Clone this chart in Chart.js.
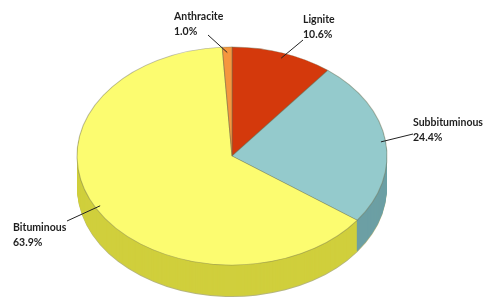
<!DOCTYPE html>
<html>
<head>
<meta charset="utf-8">
<script src="https://cdn.jsdelivr.net/npm/chart.js@4"></script>
<style>
  html, body { margin: 0; padding: 0; background: #fff; overflow: hidden; }
  #wrap { width: 487px; height: 299px; }
</style>
</head>
<body>
<div id="wrap"><canvas id="coal"></canvas></div>
<script>
const labels = ["Lignite", "Subbituminous", "Bituminous", "Anthracite"];
const shares = [10.6, 24.4, 63.9, 1.0];
const topColors = ["#d4390c", "#94cacc", "#fcfc70", "#f5963e"];
const sideColors = ["#a52c08", "#6c9fa4", "#d0cf3c", "#c8772f"];

// where the labels sit (left x, first line y) - layout only
const labelPos = [[303, 20], [413, 123], [13, 228], [174, 17]];
const lineStart = [[303, 40], [413, 134], [67, 221], [208, 35]];

// 3d look: ellipse radii and depth in screen pixels
const rx = 155, ry = 109, depth = 32;

function ellipse(ctx, arc) {
    const R = arc.outerRadius;
    ctx.translate(arc.x, arc.y);
    ctx.scale(rx / R, ry / R);
    ctx.translate(-arc.x, -arc.y);
}

const pie3d = {
    id: 'pie3d',
    beforeDatasetsDraw(chart) {
        const ctx = chart.ctx;
        const arcs = chart.getDatasetMeta(0).data;
        // side walls: stack of shifted wedges
        for (let d = depth; d > 0; d--) {
            for (let i = 0; i < arcs.length; i++) {
                const a = arcs[i];
                ctx.save();
                ctx.translate(0, d);
                ellipse(ctx, a);
                ctx.beginPath();
                ctx.moveTo(a.x, a.y);
                ctx.arc(a.x, a.y, a.outerRadius, a.startAngle, a.endAngle);
                ctx.closePath();
                ctx.fillStyle = (d === depth) ? 'rgba(150,150,70,0.7)' : sideColors[i];
                ctx.fill();
                ctx.restore();
            }
        }
        ctx.save();
        ellipse(ctx, arcs[0]);
    },
    afterDatasetsDraw(chart) {
        const ctx = chart.ctx;
        ctx.restore();
        const arcs = chart.getDatasetMeta(0).data;
        ctx.save();
        ctx.font = 'bold 10.5px Lato, "Open Sans", sans-serif';
        ctx.fillStyle = '#1e1e1e';
        ctx.textBaseline = 'middle';
        ctx.strokeStyle = '#222';
        ctx.lineWidth = 1;
        for (let i = 0; i < arcs.length; i++) {
            const a = arcs[i];
            const mid = (a.startAngle + a.endAngle) / 2;
            const ax = a.x + Math.cos(mid) * rx * 0.97;
            const ay = a.y + Math.sin(mid) * ry * 0.95;
            ctx.beginPath();
            ctx.moveTo(lineStart[i][0], lineStart[i][1]);
            ctx.lineTo(ax, ay);
            ctx.stroke();
            ctx.fillText(labels[i], labelPos[i][0], labelPos[i][1]);
            ctx.fillText(shares[i].toFixed(1) + '%', labelPos[i][0], labelPos[i][1] + 15);
        }
        ctx.restore();
    }
};

new Chart(document.getElementById('coal'), {
    type: 'pie',
    data: {
        labels: labels,
        datasets: [{
            data: shares,
            backgroundColor: topColors,
            borderColor: 'rgba(110,110,80,0.45)',
            borderWidth: 1
        }]
    },
    options: {
        responsive: true,
        maintainAspectRatio: false,
        animation: false,
        layout: { padding: { left: 0, right: 23, top: 13, bottom: 0 } },
        plugins: {
            legend: { display: false },
            tooltip: { enabled: false }
        }
    },
    plugins: [pie3d]
});
</script>
</body>
</html>
